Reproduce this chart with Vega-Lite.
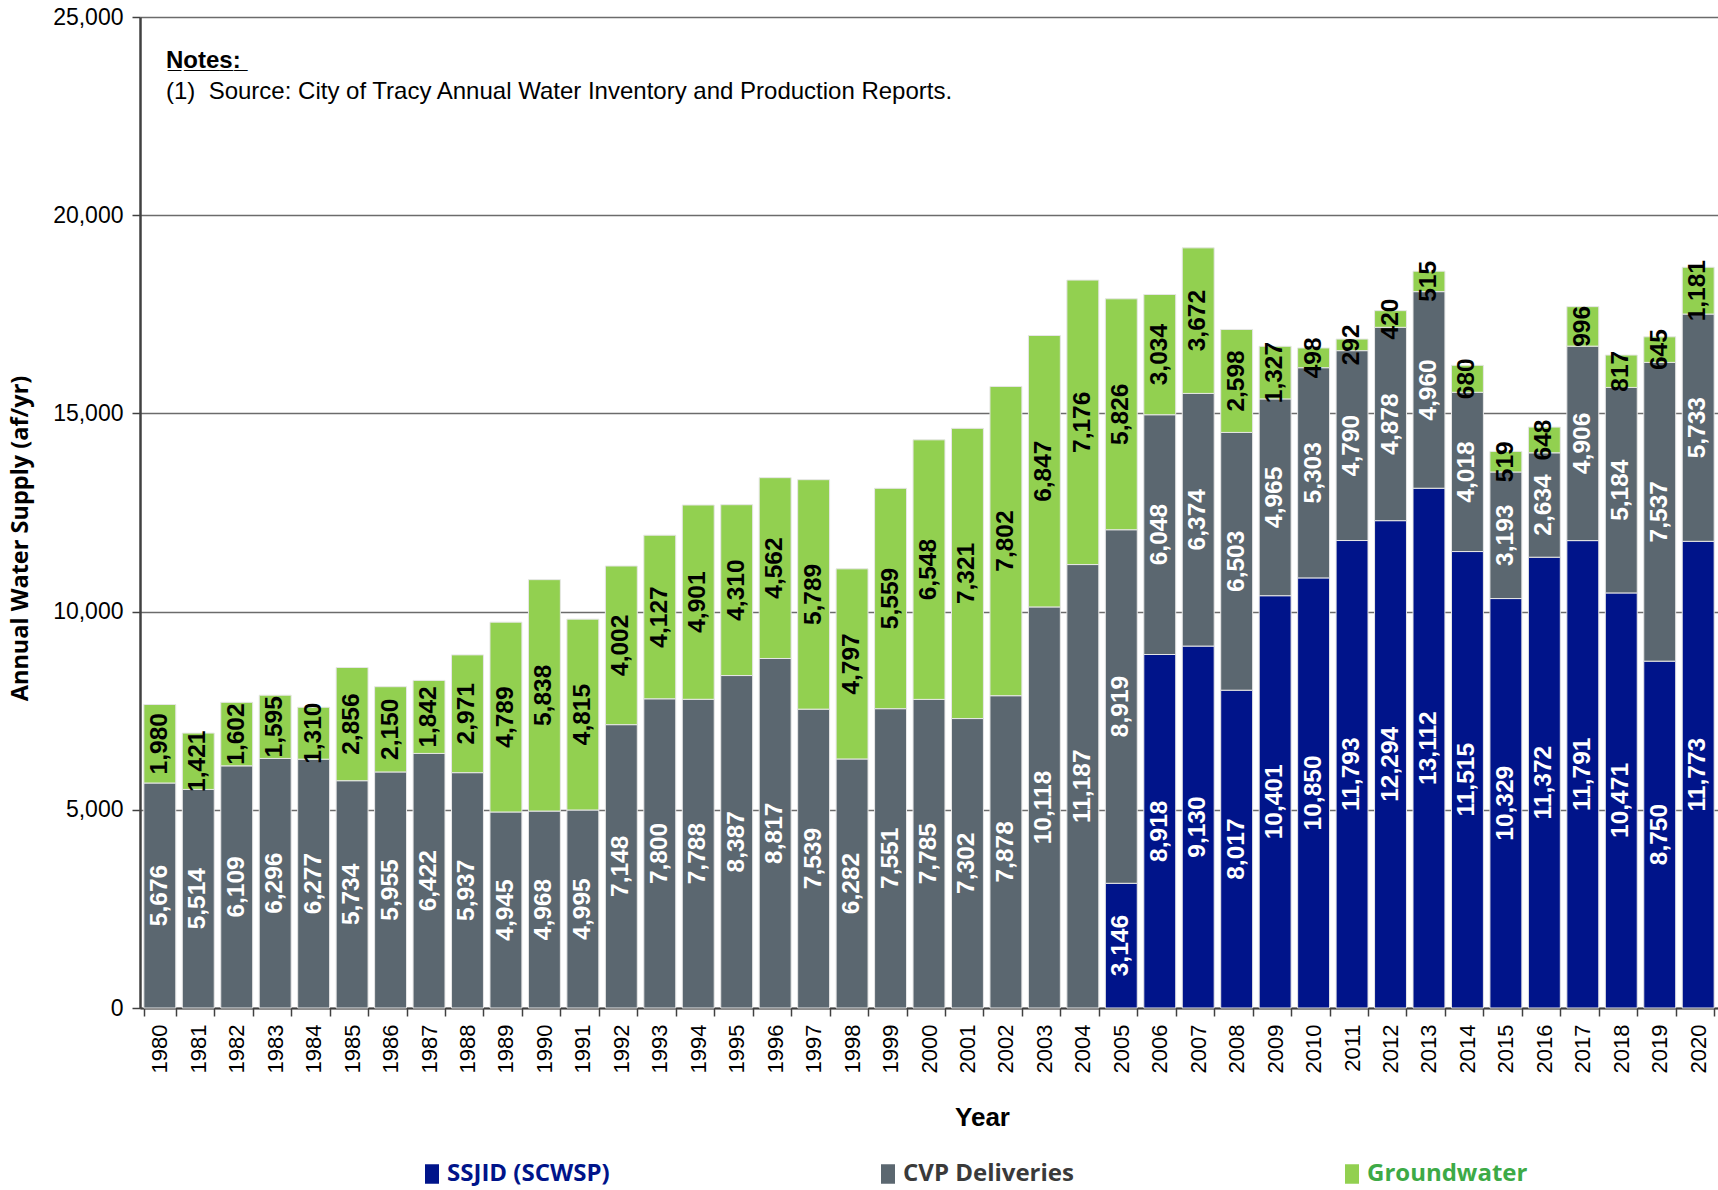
{
  "$schema": "https://vega.github.io/schema/vega-lite/v6.json",
  "autosize": {"type": "none"},
  "padding": {"left": 140, "top": 17, "right": 0, "bottom": 182},
  "width": 1578,
  "height": 991,
  "background": "white",
  "config": {"view": {"stroke": null}, "font": "Liberation Sans"},
  "title": {
    "text": "N̲o̲t̲e̲s̲:̲",
    "subtitle": "(1)\u00a0 Source: City of Tracy Annual Water Inventory and Production Reports.",
    "anchor": "start", "frame": "group", "orient": "top", "offset": 0,
    "dx": 26, "dy": 98,
    "font": "Liberation Sans", "fontSize": 24, "fontWeight": "bold", "color": "black",
    "subtitleFont": "Liberation Sans", "subtitleFontSize": 24, "subtitleColor": "black", "subtitlePadding": 7
  },
  "data": {"values": [
    {"Year":"1980","Source":"CVP Deliveries","Value":5676},{"Year":"1980","Source":"Groundwater","Value":1980},
    {"Year":"1981","Source":"CVP Deliveries","Value":5514},{"Year":"1981","Source":"Groundwater","Value":1421},
    {"Year":"1982","Source":"CVP Deliveries","Value":6109},{"Year":"1982","Source":"Groundwater","Value":1602},
    {"Year":"1983","Source":"CVP Deliveries","Value":6296},{"Year":"1983","Source":"Groundwater","Value":1595},
    {"Year":"1984","Source":"CVP Deliveries","Value":6277},{"Year":"1984","Source":"Groundwater","Value":1310},
    {"Year":"1985","Source":"CVP Deliveries","Value":5734},{"Year":"1985","Source":"Groundwater","Value":2856},
    {"Year":"1986","Source":"CVP Deliveries","Value":5955},{"Year":"1986","Source":"Groundwater","Value":2150},
    {"Year":"1987","Source":"CVP Deliveries","Value":6422},{"Year":"1987","Source":"Groundwater","Value":1842},
    {"Year":"1988","Source":"CVP Deliveries","Value":5937},{"Year":"1988","Source":"Groundwater","Value":2971},
    {"Year":"1989","Source":"CVP Deliveries","Value":4945},{"Year":"1989","Source":"Groundwater","Value":4789},
    {"Year":"1990","Source":"CVP Deliveries","Value":4968},{"Year":"1990","Source":"Groundwater","Value":5838},
    {"Year":"1991","Source":"CVP Deliveries","Value":4995},{"Year":"1991","Source":"Groundwater","Value":4815},
    {"Year":"1992","Source":"CVP Deliveries","Value":7148},{"Year":"1992","Source":"Groundwater","Value":4002},
    {"Year":"1993","Source":"CVP Deliveries","Value":7800},{"Year":"1993","Source":"Groundwater","Value":4127},
    {"Year":"1994","Source":"CVP Deliveries","Value":7788},{"Year":"1994","Source":"Groundwater","Value":4901},
    {"Year":"1995","Source":"CVP Deliveries","Value":8387},{"Year":"1995","Source":"Groundwater","Value":4310},
    {"Year":"1996","Source":"CVP Deliveries","Value":8817},{"Year":"1996","Source":"Groundwater","Value":4562},
    {"Year":"1997","Source":"CVP Deliveries","Value":7539},{"Year":"1997","Source":"Groundwater","Value":5789},
    {"Year":"1998","Source":"CVP Deliveries","Value":6282},{"Year":"1998","Source":"Groundwater","Value":4797},
    {"Year":"1999","Source":"CVP Deliveries","Value":7551},{"Year":"1999","Source":"Groundwater","Value":5559},
    {"Year":"2000","Source":"CVP Deliveries","Value":7785},{"Year":"2000","Source":"Groundwater","Value":6548},
    {"Year":"2001","Source":"CVP Deliveries","Value":7302},{"Year":"2001","Source":"Groundwater","Value":7321},
    {"Year":"2002","Source":"CVP Deliveries","Value":7878},{"Year":"2002","Source":"Groundwater","Value":7802},
    {"Year":"2003","Source":"CVP Deliveries","Value":10118},{"Year":"2003","Source":"Groundwater","Value":6847},
    {"Year":"2004","Source":"CVP Deliveries","Value":11187},{"Year":"2004","Source":"Groundwater","Value":7176},
    {"Year":"2005","Source":"SSJID (SCWSP)","Value":3146},{"Year":"2005","Source":"CVP Deliveries","Value":8919},{"Year":"2005","Source":"Groundwater","Value":5826},
    {"Year":"2006","Source":"SSJID (SCWSP)","Value":8918},{"Year":"2006","Source":"CVP Deliveries","Value":6048},{"Year":"2006","Source":"Groundwater","Value":3034},
    {"Year":"2007","Source":"SSJID (SCWSP)","Value":9130},{"Year":"2007","Source":"CVP Deliveries","Value":6374},{"Year":"2007","Source":"Groundwater","Value":3672},
    {"Year":"2008","Source":"SSJID (SCWSP)","Value":8017},{"Year":"2008","Source":"CVP Deliveries","Value":6503},{"Year":"2008","Source":"Groundwater","Value":2598},
    {"Year":"2009","Source":"SSJID (SCWSP)","Value":10401},{"Year":"2009","Source":"CVP Deliveries","Value":4965},{"Year":"2009","Source":"Groundwater","Value":1327},
    {"Year":"2010","Source":"SSJID (SCWSP)","Value":10850},{"Year":"2010","Source":"CVP Deliveries","Value":5303},{"Year":"2010","Source":"Groundwater","Value":498},
    {"Year":"2011","Source":"SSJID (SCWSP)","Value":11793},{"Year":"2011","Source":"CVP Deliveries","Value":4790},{"Year":"2011","Source":"Groundwater","Value":292},
    {"Year":"2012","Source":"SSJID (SCWSP)","Value":12294},{"Year":"2012","Source":"CVP Deliveries","Value":4878},{"Year":"2012","Source":"Groundwater","Value":420},
    {"Year":"2013","Source":"SSJID (SCWSP)","Value":13112},{"Year":"2013","Source":"CVP Deliveries","Value":4960},{"Year":"2013","Source":"Groundwater","Value":515},
    {"Year":"2014","Source":"SSJID (SCWSP)","Value":11515},{"Year":"2014","Source":"CVP Deliveries","Value":4018},{"Year":"2014","Source":"Groundwater","Value":680},
    {"Year":"2015","Source":"SSJID (SCWSP)","Value":10329},{"Year":"2015","Source":"CVP Deliveries","Value":3193},{"Year":"2015","Source":"Groundwater","Value":519},
    {"Year":"2016","Source":"SSJID (SCWSP)","Value":11372},{"Year":"2016","Source":"CVP Deliveries","Value":2634},{"Year":"2016","Source":"Groundwater","Value":648},
    {"Year":"2017","Source":"SSJID (SCWSP)","Value":11791},{"Year":"2017","Source":"CVP Deliveries","Value":4906},{"Year":"2017","Source":"Groundwater","Value":996},
    {"Year":"2018","Source":"SSJID (SCWSP)","Value":10471},{"Year":"2018","Source":"CVP Deliveries","Value":5184},{"Year":"2018","Source":"Groundwater","Value":817},
    {"Year":"2019","Source":"SSJID (SCWSP)","Value":8750},{"Year":"2019","Source":"CVP Deliveries","Value":7537},{"Year":"2019","Source":"Groundwater","Value":645},
    {"Year":"2020","Source":"SSJID (SCWSP)","Value":11773},{"Year":"2020","Source":"CVP Deliveries","Value":5733},{"Year":"2020","Source":"Groundwater","Value":1181}
  ]},
  "transform": [
    {"calculate": "datum.Source == 'SSJID (SCWSP)' ? 0 : datum.Source == 'CVP Deliveries' ? 1 : 2", "as": "ord"},
    {"stack": "Value", "groupby": ["Year"], "sort": [{"field": "ord", "order": "ascending"}], "as": ["v0", "v1"]},
    {"calculate": "(datum.v0 + datum.v1) / 2", "as": "vmid"}
  ],
  "encoding": {
    "x": {
      "field": "Year", "type": "nominal",
      "scale": {"paddingInner": 0.17, "paddingOuter": 0.1},
      "axis": {
        "title": "Year", "titleFont": "Liberation Sans", "titleFontSize": 26, "titleFontWeight": "bold", "titleColor": "black", "titlePadding": 32, "titleX": 842,
        "labelAngle": -90, "labelAlign": "right", "labelBaseline": "middle", "labelFontSize": 22, "labelColor": "black", "labelPadding": 8,
        "tickBand": "extent", "tickSize": 8, "tickColor": "#404040", "tickWidth": 1.5,
        "domainColor": "#404040", "domainWidth": 2, "grid": false
      }
    }
  },
  "layer": [
    {
      "mark": {"type": "bar", "stroke": "#e6e6e6", "strokeWidth": 1},
      "encoding": {
        "y": {
          "field": "v0", "type": "quantitative",
          "scale": {"domain": [0, 25000], "nice": false},
          "axis": {
            "title": "Annual Water Supply (af/yr)", "titleFont": "Open Sans", "titleFontSize": 23.5, "titleFontWeight": "bold", "titleColor": "black", "titlePadding": 20, "titleY": 521,
            "values": [0, 5000, 10000, 15000, 20000, 25000], "format": ",d",
            "labelFontSize": 23, "labelColor": "black", "labelPadding": 9,
            "tickSize": 8, "tickColor": "#404040", "tickWidth": 1.5,
            "domainColor": "#404040", "domainWidth": 2.5,
            "grid": true, "gridColor": "#6b6b6b", "gridWidth": 1.5
          }
        },
        "y2": {"field": "v1"},
        "color": {
          "field": "Source", "type": "nominal",
          "scale": {"domain": ["SSJID (SCWSP)", "CVP Deliveries", "Groundwater"], "range": ["#00148A", "#5B6770", "#92D050"]},
          "legend": {
            "title": null, "orient": "none", "legendX": 280, "legendY": 1145,
            "direction": "horizontal", "columns": 3, "columnPadding": 266,
            "symbolType": "M-0.72,-1H0.72V1H-0.72Z", "symbolSize": 380, "symbolStrokeWidth": 0, "labelOffset": 3,
            "labelFont": "Open Sans", "labelFontSize": 24, "labelFontWeight": "bold", "labelLimit": 400,
            "labelColor": {"expr": "datum.label === 'SSJID (SCWSP)' ? '#00148A' : (datum.label === 'CVP Deliveries' ? '#3a3a3a' : '#3DAA46')"}
          }
        }
      }
    },
    {
      "mark": {"type": "text", "angle": 270, "font": "Liberation Sans", "fontWeight": "bold", "fontSize": 24.5, "align": "center", "baseline": "middle"},
      "encoding": {
        "y": {"field": "vmid", "type": "quantitative"},
        "text": {"field": "Value", "type": "quantitative", "format": ",d"},
        "color": {"condition": {"test": "datum.Source == 'Groundwater'", "value": "black"}, "value": "white"}
      }
    }
  ]
}
